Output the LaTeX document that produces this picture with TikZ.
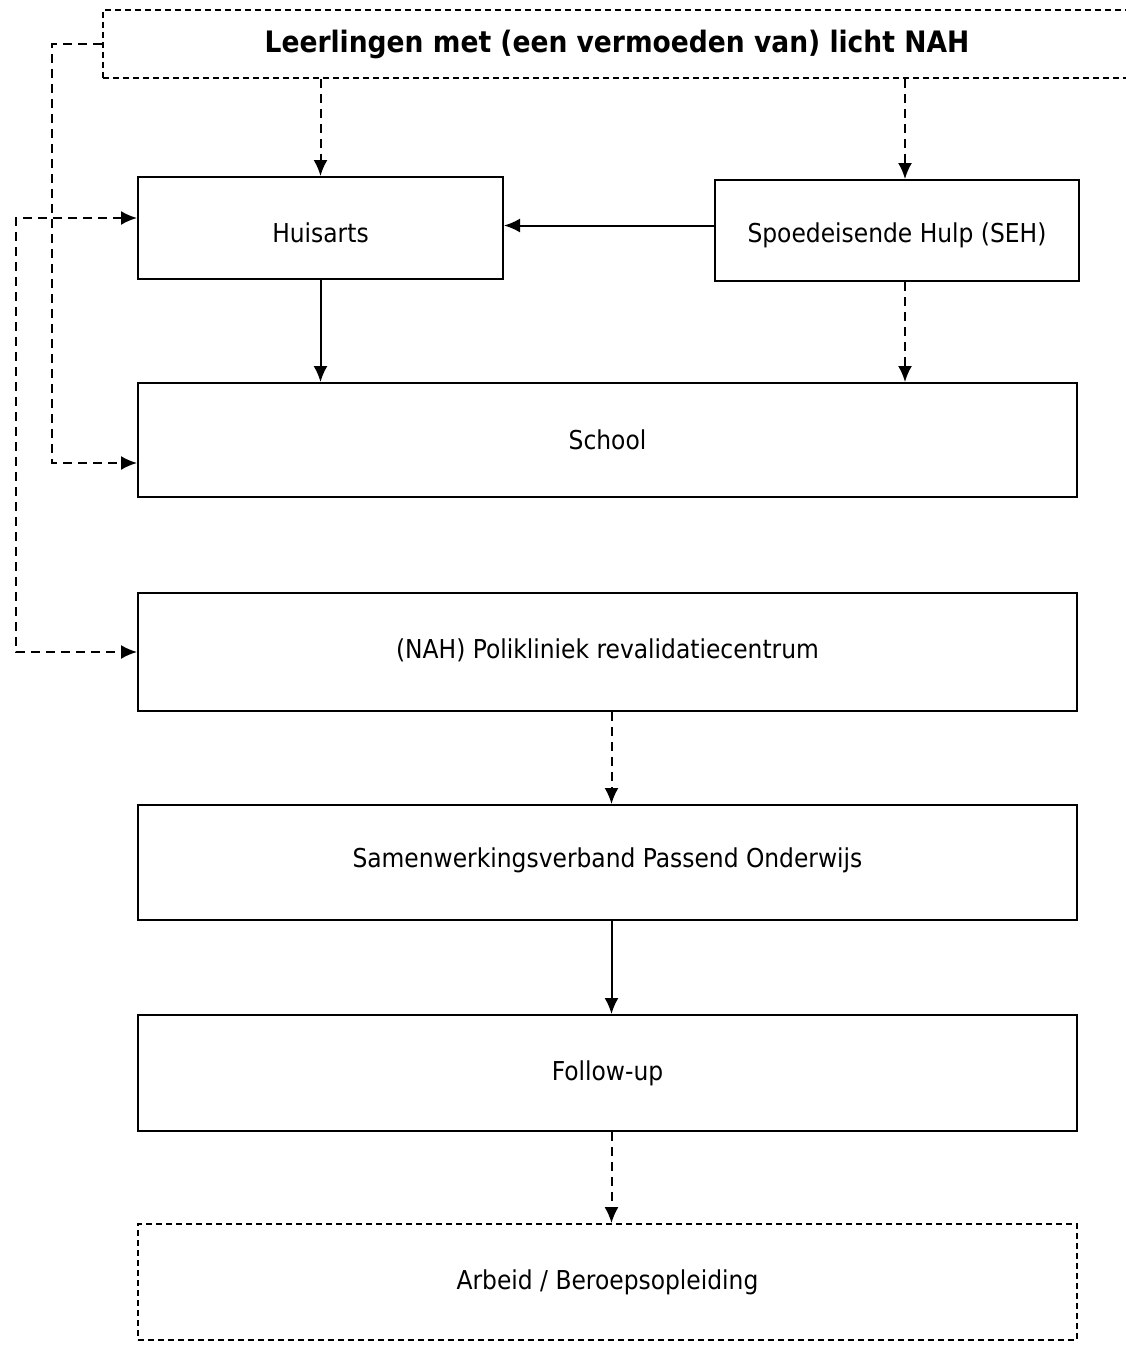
\documentclass[tikz,border=0pt]{standalone}
\usepackage{fontspec}
\setmainfont{DejaVu Sans Condensed}
\usetikzlibrary{arrows.meta}
\newcommand{\lowertext}[2]{\raisebox{#1}[\height][\depth]{#2}}
\begin{document}
\begin{tikzpicture}[x=1pt,y=-1pt,
  box/.style={draw,line width=2pt,rectangle,inner sep=0pt,font=\fontsize{26}{30}\selectfont},
  dbox/.style={box,dash pattern=on 6pt off 4pt,line width=1.8pt},
  con/.style={line width=2pt,-{Latex[length=16pt,width=14pt]}},
  dcon/.style={con,dash pattern=on 9pt off 6pt}]
\useasboundingbox (0,0) rectangle (1126,1346);
\fill[white] (0,0) rectangle (1126,1346);
\node[dbox,minimum width=1040pt,minimum height=68pt,font=\fontsize{29.5}{34}\selectfont\bfseries] (top) at (623,44) {\hspace*{-12pt}Leerlingen met (een vermoeden van) licht NAH};
\node[box,minimum width=365pt,minimum height=102pt] (huis) at (320.5,228) {\lowertext{-5pt}{Huisarts}};
\node[box,minimum width=364pt,minimum height=101pt] (seh) at (897,230.5) {\lowertext{-5pt}{Spoedeisende Hulp (SEH)}};
\node[box,minimum width=939pt,minimum height=114pt] (school) at (607.5,440) {School};
\node[box,minimum width=939pt,minimum height=118pt] (poli) at (607.5,652) {\lowertext{2pt}{(NAH) Polikliniek revalidatiecentrum}};
\node[box,minimum width=939pt,minimum height=115pt] (samen) at (607.5,862.5) {\lowertext{2pt}{Samenwerkingsverband Passend Onderwijs}};
\node[box,minimum width=939pt,minimum height=116pt] (follow) at (607.5,1073) {Follow-up};
\node[dbox,minimum width=939pt,minimum height=116pt] (arbeid) at (607.5,1282) {Arbeid / Beroepsopleiding};
\draw[dcon] (top.south -| huis.north) -- (huis.north);
\draw[dcon] ([xshift=8pt]seh.north |- top.south) -- ([xshift=8pt]seh.north);
\draw[con] ([yshift=5pt]seh.west) -- ([yshift=5pt]seh.west -| huis.east);
\draw[con] (huis.south) -- (huis.south |- school.north);
\draw[dcon] ([xshift=8pt]seh.south) -- ([xshift=8pt]seh.south |- school.north);
\draw[dcon] (top.west) -- ++(-50,0) |- ([yshift=-23pt]school.west);
\draw[dcon,{Latex[length=16pt,width=14pt]}-{Latex[length=16pt,width=14pt]}] ([yshift=10pt]huis.west) -- ++(-121,0) |- (poli.west);
\draw[dcon] ([xshift=4pt]poli.south) -- ([xshift=4pt]samen.north);
\draw[con] ([xshift=4pt]samen.south) -- ([xshift=4pt]follow.north);
\draw[dcon] ([xshift=4pt]follow.south) -- ([xshift=4pt]arbeid.north);
\end{tikzpicture}
\end{document}
